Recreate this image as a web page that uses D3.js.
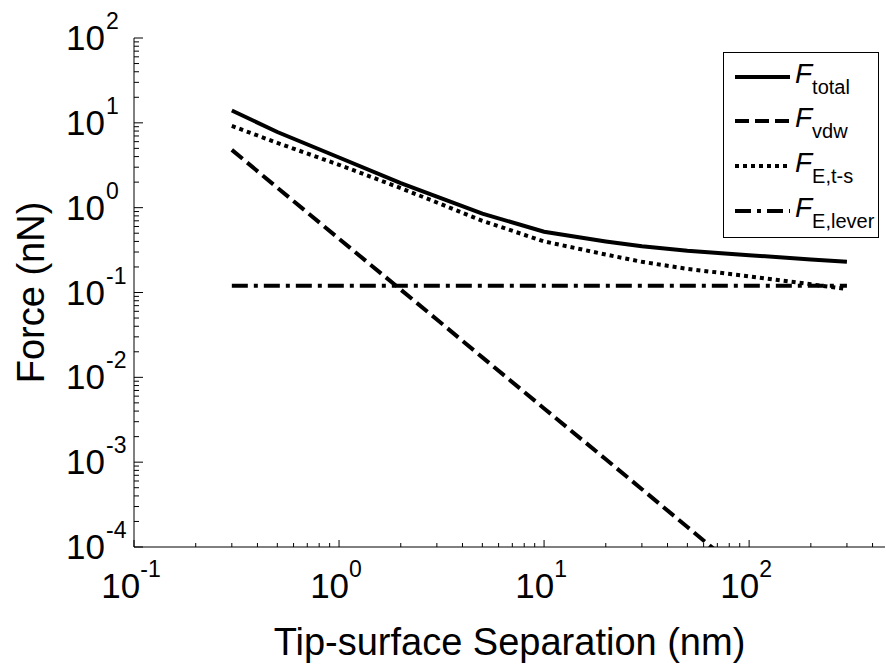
<!DOCTYPE html>
<html>
<head>
<meta charset="utf-8">
<script src="https://cdn.jsdelivr.net/npm/d3@7"></script>
<style>
    body { margin: 0; background: #fff; }
    svg { font-family: "Liberation Sans", Arial, sans-serif; }
</style>
</head>
<body>
<svg id="chart" width="886" height="667"></svg>
<script>
// values (nm, nN)
const separation = [0.3, 0.5, 1, 2, 3, 5, 10, 20, 30, 50, 100, 200, 300];
const fTotal = [14, 7.8, 3.9, 1.95, 1.35, 0.85, 0.52, 0.40, 0.35, 0.31, 0.275, 0.245, 0.23];
const fVdw = [4.8, 1.72, 0.43, 0.108, 0.048, 0.0172, 0.0043, 0.00108, 4.8e-4, 1.72e-4, 4.3e-5, 1.08e-5, 4.8e-6];
const fEts = [9.2, 5.8, 3.2, 1.7, 1.15, 0.7, 0.4, 0.28, 0.23, 0.19, 0.155, 0.125, 0.11];
const fLever = [0.12, 0.12, 0.12, 0.12, 0.12, 0.12, 0.12, 0.12, 0.12, 0.12, 0.12, 0.12, 0.12];

const seriesSubs = ["total", "vdw", "E,t-s", "E,lever"];
const xTickPowers = [-1, 0, 1, 2];
const yTickPowers = [-4, -3, -2, -1, 0, 1, 2];

const dashes = [null, "14,6", "4,4", "16,6,4,6"];

const paper = d3.select("#chart");

const x = d3.scaleLog().domain([0.1, 460]).range([134, 885]);
const y = d3.scaleLog().domain([1e-4, 100]).range([547, 38]);

draw();

function draw() {
    drawAxes();
    drawCurves();
    drawLegend();
    drawLabels();
}

function minorTicks(scale) {
    const [lo, hi] = scale.domain();
    const out = [];
    for (let p = Math.floor(Math.log10(lo)); p <= Math.ceil(Math.log10(hi)); p++) {
        for (let m = 2; m <= 9; m++) {
            const v = m * Math.pow(10, p);
            if (v >= lo && v <= hi) out.push(v);
        }
    }
    return out;
}

function drawAxes() {
    const g = paper.append("g").attr("class", "axes")
        .attr("stroke", "#000").attr("stroke-width", 1);

    g.append("line")
        .attr("x1", x.range()[0]).attr("x2", x.range()[1])
        .attr("y1", y.range()[0]).attr("y2", y.range()[0]);
    g.append("line")
        .attr("x1", x.range()[0]).attr("x2", x.range()[0])
        .attr("y1", y.range()[0]).attr("y2", y.range()[1]);

    // ticks point inward
    g.selectAll(".xMajor")
        .data(xTickPowers.map(p => Math.pow(10, p)))
        .join("line")
        .attr("class", "xMajor")
        .attr("x1", d => x(d)).attr("x2", d => x(d))
        .attr("y1", y.range()[0]).attr("y2", y.range()[0] - 7);

    g.selectAll(".xMinor")
        .data(minorTicks(x))
        .join("line")
        .attr("class", "xMinor")
        .attr("x1", d => x(d)).attr("x2", d => x(d))
        .attr("y1", y.range()[0]).attr("y2", y.range()[0] - 4);

    g.selectAll(".yMajor")
        .data(yTickPowers.map(p => Math.pow(10, p)))
        .join("line")
        .attr("class", "yMajor")
        .attr("y1", d => y(d)).attr("y2", d => y(d))
        .attr("x1", x.range()[0]).attr("x2", x.range()[0] + 9);

    g.selectAll(".yMinor")
        .data(minorTicks(y))
        .join("line")
        .attr("class", "yMinor")
        .attr("y1", d => y(d)).attr("y2", d => y(d))
        .attr("x1", x.range()[0]).attr("x2", x.range()[0] + 5);

    // tick labels as 10^n
    const xl = paper.selectAll(".xTickLabel")
        .data(xTickPowers)
        .join("text")
        .attr("class", "xTickLabel")
        .attr("x", p => x(Math.pow(10, p)) - 3)
        .attr("y", 598)
        .attr("text-anchor", "middle")
        .attr("font-size", 35);
    xl.append("tspan").text("10");
    xl.append("tspan").attr("font-size", 23).attr("dy", -21).text(p => p);

    const yl = paper.selectAll(".yTickLabel")
        .data(yTickPowers)
        .join("text")
        .attr("class", "yTickLabel")
        .attr("x", 105)
        .attr("y", p => y(Math.pow(10, p)) + 12)
        .attr("font-size", 35);
    yl.append("tspan").attr("text-anchor", "end").text("10");
    yl.append("tspan").attr("x", 106).attr("font-size", 23).attr("dy", -21).text(p => p);
}

function drawCurves() {
    paper.append("clipPath").attr("id", "plotClip")
        .append("rect")
        .attr("x", x.range()[0]).attr("y", y.range()[1])
        .attr("width", x.range()[1] - x.range()[0])
        .attr("height", y.range()[0] - y.range()[1]);

    const series = [fTotal, fVdw, fEts, fLever];
    const line = d3.line()
        .x((d, i) => x(separation[i]))
        .y(d => y(d));

    paper.append("g")
        .attr("clip-path", "url(#plotClip)")
        .selectAll(".curve")
        .data(series)
        .join("path")
        .attr("class", "curve")
        .attr("d", line)
        .attr("fill", "none")
        .attr("stroke", "#000")
        .attr("stroke-width", 4)
        .attr("stroke-dasharray", (d, i) => dashes[i]);
}

function drawLegend() {
    const lg = paper.append("g").attr("class", "legend");
    lg.append("rect")
        .attr("x", 723.5).attr("y", 52.5)
        .attr("width", 155).attr("height", 185)
        .attr("fill", "#fff").attr("stroke", "#000").attr("stroke-width", 1);

    const baselines = [83, 127, 172, 217];
    const rows = lg.selectAll(".legendRow")
        .data(seriesSubs)
        .join("g")
        .attr("class", "legendRow");

    rows.append("line")
        .attr("x1", 735).attr("x2", 790)
        .attr("y1", (d, i) => baselines[i] - 6)
        .attr("y2", (d, i) => baselines[i] - 6)
        .attr("stroke", "#000")
        .attr("stroke-width", 4)
        .attr("stroke-dasharray", (d, i) => dashes[i]);

    const t = rows.append("text")
        .attr("x", 795)
        .attr("y", (d, i) => baselines[i])
        .attr("font-size", 28);
    t.append("tspan").attr("font-style", "italic").text("F");
    t.append("tspan").attr("font-size", 20).attr("dy", 11).text(d => d);
}

function drawLabels() {
    paper.append("text")
        .attr("x", (x.range()[0] + x.range()[1]) / 2)
        .attr("y", 655)
        .attr("text-anchor", "middle")
        .attr("font-size", 38)
        .text("Tip-surface Separation (nm)");

    paper.append("text")
        .attr("transform", `translate(44, ${(y.range()[0] + y.range()[1]) / 2}) rotate(-90)`)
        .attr("text-anchor", "middle")
        .attr("font-size", 38)
        .text("Force (nN)");
}
</script>
</body>
</html>
